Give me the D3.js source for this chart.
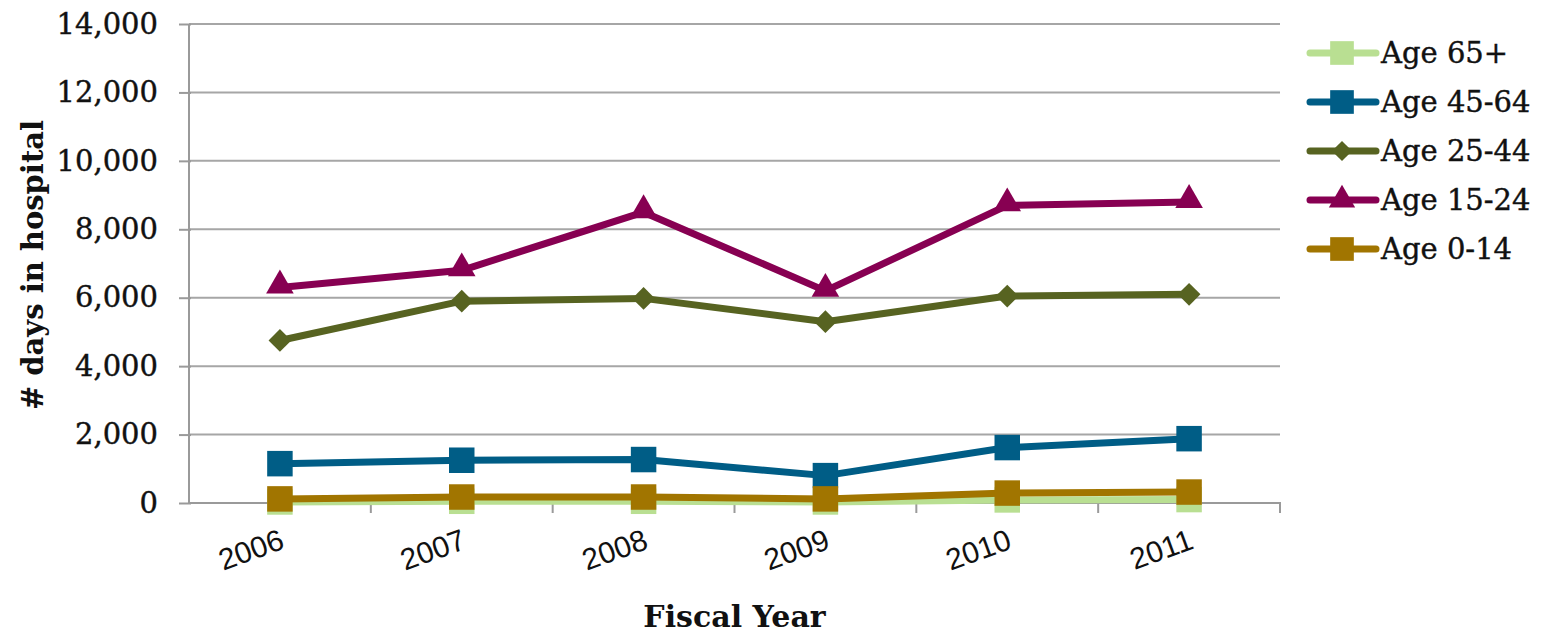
<!DOCTYPE html>
<html>
<head>
<meta charset="utf-8">
<script src="https://cdn.jsdelivr.net/npm/d3@7"></script>
<style>
  body { margin: 0; background: #fff; }
  svg text { fill: #111; }
</style>
</head>
<body>
<div id="graph"></div>
<script>
  // data
  const years = ['2006', '2007', '2008', '2009', '2010', '2011'];
  const age65 = [30, 50, 50, 30, 90, 100];
  const age45 = [1150, 1250, 1270, 800, 1620, 1880];
  const age25 = [4750, 5900, 5980, 5300, 6050, 6100];
  const age15 = [6300, 6800, 8500, 6200, 8700, 8800];
  const age0 = [120, 175, 175, 120, 290, 320];
  const yTicks = [0, 2000, 4000, 6000, 8000, 10000, 12000, 14000];

  const series = [
    {name: 'Age 65+', values: age65, color: '#b9df92', shape: 'square'},
    {name: 'Age 45-64', values: age45, color: '#005d86', shape: 'square'},
    {name: 'Age 25-44', values: age25, color: '#576321', shape: 'diamond'},
    {name: 'Age 15-24', values: age15, color: '#870052', shape: 'triangle'},
    {name: 'Age 0-14', values: age0, color: '#a17500', shape: 'square'}
  ];

  //sizing
  const width = 1546;
  const height = 636;
  const padL = 189, padR = 1280, padT = 24, padB = 503;

  //scales
  const xScale = d3.scaleBand().domain(years).range([padL, padR]);
  const yScale = d3.scaleLinear().domain([0, 14000]).range([padB, padT]);

  const svg = d3.select('#graph')
              .append('svg')
              .attr('width', width)
              .attr('height', height);

  //grid
  svg.append('g')
     .selectAll('line')
     .data(yTicks.slice(1))
     .enter()
     .append('line')
     .attr('x1', padL)
     .attr('x2', padR)
     .attr('y1', (d) => yScale(d))
     .attr('y2', (d) => yScale(d))
     .attr('stroke', '#a6a6a6')
     .attr('stroke-width', 2);

  //axes
  const yAxis = d3.axisLeft(yScale)
                  .tickValues(yTicks)
                  .tickFormat(d3.format(','))
                  .tickSize(10)
                  .tickPadding(21);
  const yg = svg.append('g')
     .attr('transform', 'translate(' + padL + ',0)')
     .call(yAxis);
  yg.selectAll('line').attr('stroke', '#9a9a9a').attr('stroke-width', 2).attr('x2', -10).attr('x1', 2);
  yg.select('.domain').attr('stroke', '#9a9a9a').attr('stroke-width', 2).attr('d', 'M0,' + padT + 'V' + padB);
  yg.selectAll('text')
    .attr('font-family', 'DejaVu Serif')
    .attr('font-size', 29)
    .attr('fill', '#111')
    .attr('stroke', '#111')
    .attr('stroke-width', 0.4);

  const xAxis = d3.axisBottom(xScale).tickSize(0).tickFormat('');
  const xg = svg.append('g')
     .attr('transform', 'translate(0,' + padB + ')')
     .call(xAxis);
  xg.select('.domain').attr('stroke', '#9a9a9a').attr('stroke-width', 2).attr('d', 'M' + padL + ',0H' + padR + 'V10');
  // tick marks at band edges
  xg.selectAll('.edge')
    .data(years.slice(1))
    .enter()
    .append('line')
    .attr('class', 'edge')
    .attr('x1', (d) => xScale(d))
    .attr('x2', (d) => xScale(d))
    .attr('y1', 0)
    .attr('y2', 10)
    .attr('stroke', '#9a9a9a')
    .attr('stroke-width', 2);

  svg.append('g')
     .selectAll('text')
     .data(years)
     .enter()
     .append('text')
     .attr('transform', (d) => 'translate(' + (xScale(d) + xScale.bandwidth() / 2 + 6) + ',' + (padB + 45) + ') rotate(-20)')
     .attr('text-anchor', 'end')
     .attr('font-family', 'Liberation Sans, Arial, sans-serif')
     .attr('font-size', 30)
     .text((d) => d);

  //axis titles
  svg.append('text')
     .attr('x', (padL + padR) / 2)
     .attr('y', 627)
     .attr('text-anchor', 'middle')
     .attr('font-family', 'DejaVu Serif')
     .attr('font-weight', 'bold')
     .attr('font-size', 30)
     .text('Fiscal Year');

  svg.append('text')
     .attr('transform', 'translate(43,' + 265 + ') rotate(-90)')
     .attr('text-anchor', 'middle')
     .attr('font-family', 'DejaVu Serif')
     .attr('font-weight', 'bold')
     .attr('font-size', 29)
     .text('# days in hospital');

  //markers
  const symbols = {
    square: d3.symbol().type(d3.symbolSquare).size(650),
    diamond: d3.symbol().type(d3.symbolDiamond2).size(330),
    triangle: d3.symbol().type(d3.symbolTriangle).size(330)
  };

  const line = d3.line()
                 .x((d, i) => xScale(years[i]) + xScale.bandwidth() / 2)
                 .y((d) => yScale(d));

  series.forEach((s) => {
    const g = svg.append('g');
    g.append('path')
     .attr('d', line(s.values))
     .attr('fill', 'none')
     .attr('stroke', s.color)
     .attr('stroke-width', 7)
     .attr('stroke-linejoin', 'round');
    g.selectAll('path.mk')
     .data(s.values)
     .enter()
     .append('path')
     .attr('class', 'mk')
     .attr('d', symbols[s.shape])
     .attr('transform', (d, i) => 'translate(' + (xScale(years[i]) + xScale.bandwidth() / 2) + ',' + (yScale(d) + (s.shape === 'triangle' ? -2 : 0)) + ')')
     .attr('fill', s.color);
  });

  //legend
  const legendSym = {
    square: d3.symbol().type(d3.symbolSquare).size(560),
    diamond: d3.symbol().type(d3.symbolDiamond2).size(260),
    triangle: d3.symbol().type(d3.symbolTriangle).size(300)
  };
  const legend = svg.append('g');
  series.forEach((s, i) => {
    const y = 53 + i * 49;
    legend.append('line')
          .attr('x1', 1310).attr('x2', 1376)
          .attr('y1', y).attr('y2', y)
          .attr('stroke', s.color)
          .attr('stroke-width', 7)
          .attr('stroke-linecap', 'round');
    legend.append('path')
          .attr('d', legendSym[s.shape])
          .attr('transform', 'translate(1342,' + y + ')')
          .attr('fill', s.color);
    legend.append('text')
          .attr('x', 1381)
          .attr('y', y + 10)
          .attr('font-family', 'DejaVu Serif')
          .attr('font-size', 29)
          .attr('stroke', '#111')
          .attr('stroke-width', 0.4)
          .text(s.name);
  });
</script>
</body>
</html>
